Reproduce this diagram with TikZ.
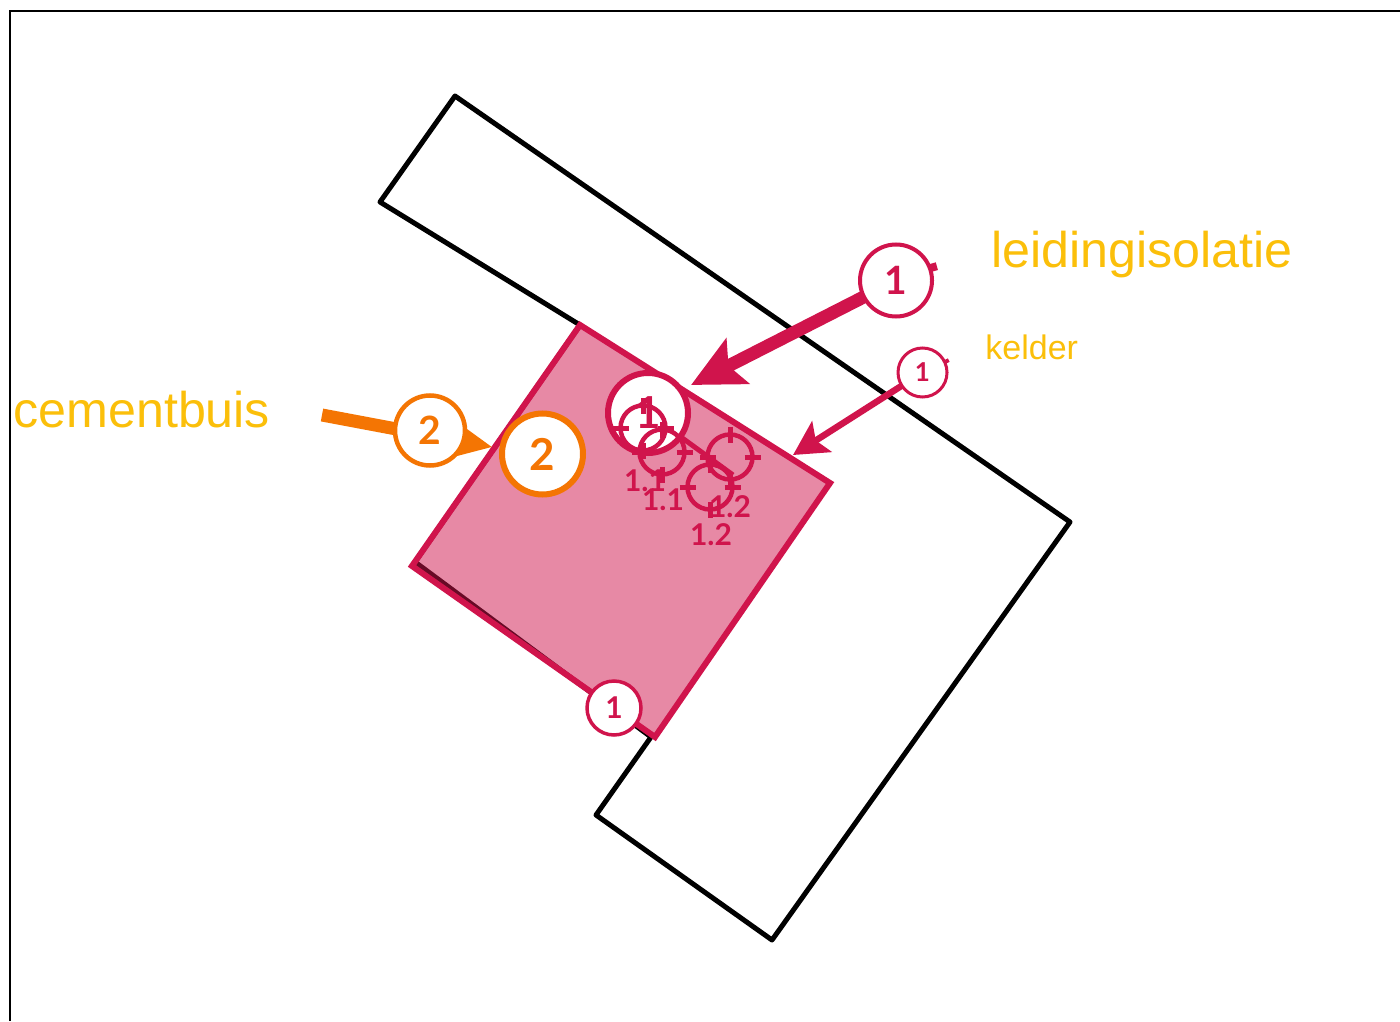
\documentclass[tikz,border=0pt]{standalone}
\usepackage{fontspec}
\setmainfont{Lato}
\newfontfamily\labelfont{Liberation Sans}
\usetikzlibrary{arrows.meta,calc}
\definecolor{crim}{HTML}{D0144C}
\definecolor{orng}{HTML}{F47503}
\definecolor{yell}{HTML}{FBBF0A}
\pgfdeclarelayer{under}
\pgfsetlayers{under,main}
\tikzset{
  x=0.5pt,y=-0.5pt,
  frameline/.style={black,line width=1pt},
  plan/.style={black,line width=2.5pt,line join=round},
  zonefill/.style={fill=crim,fill opacity=0.5},
  zoneline/.style={crim,line width=3pt,line join=miter},
  badge/.style={circle,draw=#1,text=#1,fill=white,inner sep=0pt,outer sep=0pt,font=\bfseries},
  ring/.style={circle,draw=crim,line width=2.25pt,inner sep=0pt,outer sep=0pt,minimum size=22.5pt},
  ringtick/.style={crim,line width=2.5pt},
  ringlabel/.style={text=crim,font=\bfseries\fontsize{15}{15}\selectfont,inner sep=0pt},
  stub/.style={crim,line width=#1},
  bigarrow/.style={crim,line width=6.5pt,-{Stealth[length=26pt,width=25pt,inset=5pt]}},
  smallarrow/.style={crim,line width=3.25pt,-{Stealth[length=17pt,width=18pt,inset=3.5pt]}},
  orangearrow/.style={orng,line width=6.5pt,-{Stealth[length=25pt,width=23pt,inset=5pt]}},
  innerline/.style={crim,line width=2.5pt},
  caption/.style={text=yell,inner sep=0pt,anchor=base west},
}
\begin{document}
\begin{tikzpicture}
\useasboundingbox (0,0) rectangle (1400,1021);
\begin{pgfonlayer}{under}
  \draw[frameline] (10,1021) -- (10,11) -- (1400,11);
  \draw[plan] (455,96) -- (1070,522) -- (772,940) -- (596,815) -- (651,737) -- (415,562) -- (580,325) -- (380,202) -- cycle;
  \fill[zonefill] (580,325) -- (830,483) -- (655,737) -- (412,566) -- cycle;
  \draw[zoneline] (580,325) -- (830,483) -- (655,737) -- (412,566) -- cycle;
\end{pgfonlayer}

% numbered badges
\node[badge=crim,line width=2pt,minimum size=36pt,font=\bfseries\fontsize{19.5}{19.5}\selectfont] (a1) at (896,280.5) {1};
\node[badge=crim,line width=1.5pt,minimum size=24.5pt,font=\bfseries\fontsize{13}{13}\selectfont] (a2) at (922.5,372.5) {1};
\node[badge=crim,line width=3pt,minimum size=40pt,font=\bfseries\fontsize{22}{22}\selectfont] (a3) at (648,413) {1};
\node[badge=crim,line width=1.75pt,minimum size=27pt,font=\bfseries\fontsize{15}{15}\selectfont] (a4) at (614,708) {1};
\node[badge=orng,line width=2.25pt,minimum size=35pt,font=\bfseries\fontsize{19.5}{19.5}\selectfont] (b1) at (430,430.5) {2};
\node[badge=orng,line width=3pt,minimum size=40.5pt,font=\bfseries\fontsize{22}{22}\selectfont] (b2) at (542.5,454) {2};

% crosshair rings
\node[ring] (r1) at (643,428) {};
\node[ring] (r2) at (662,452) {};
\node[ring] (r3) at (730,457) {};
\node[ring] (r4) at (710,487) {};
\foreach \r in {r1,r2,r3,r4}{
  \draw[ringtick] ($(\r.north)+(0,-8)$) -- ($(\r.north)+(0,8)$);
  \draw[ringtick] ($(\r.south)+(0,-8)$) -- ($(\r.south)+(0,8)$);
  \draw[ringtick] ($(\r.west)+(-8,0)$) -- ($(\r.west)+(8,0)$);
  \draw[ringtick] ($(\r.east)+(-8,0)$) -- ($(\r.east)+(8,0)$);
}

% ring labels
\node[ringlabel] (l1) at (645,481) {1.1};
\node[ringlabel] (l2) at (663,500) {1.1};
\node[ringlabel] (l3) at (730,507) {1.2};
\node[ringlabel] (l4) at (711,535) {1.2};

% connector free ends
\coordinate (t1) at (691,385);
\coordinate (t2) at (793,455);
\coordinate (s3) at (322,415);
\coordinate (t3) at (492,447);
\coordinate (t4) at (733,475);

\begin{pgfonlayer}{under}
  \draw[bigarrow] (a1) -- (t1);
  \draw[smallarrow] (a2) -- (t2);
  \draw[orangearrow] (s3) -- (t3);
\end{pgfonlayer}
\draw[innerline] (a3) -- (t4);

% small marks on the badges
\draw[stub=4pt] (a1.20) -- ++(7,-2);
\draw[stub=2pt] (a2.25) -- ++(4,-2);

% captions
\node[caption,font=\labelfont\fontsize{25.1}{25.1}\selectfont] (c1) at (13,427) {cementbuis};
\node[caption,font=\labelfont\fontsize{25.1}{25.1}\selectfont] (c2) at (991,268) {leidingisolatie};
\node[caption,font=\labelfont\fontsize{17}{17}\selectfont] (c3) at (985,359) {kelder};
\end{tikzpicture}
\end{document}
